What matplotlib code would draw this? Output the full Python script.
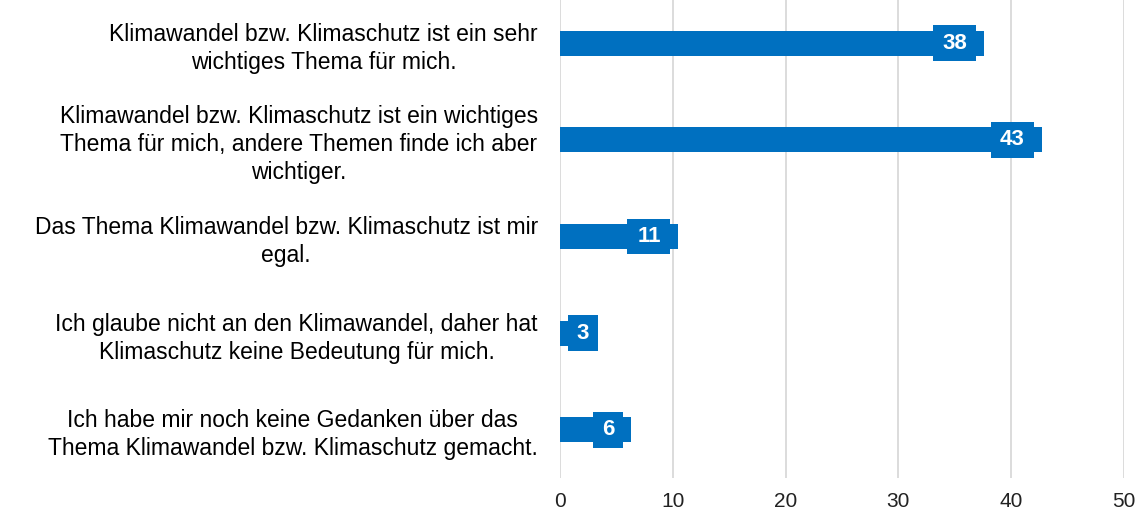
import matplotlib.pyplot as plt

plt.rcParams['font.family'] = ['Liberation Sans', 'DejaVu Sans']

categories = [
    'Klimawandel bzw. Klimaschutz ist ein sehr\nwichtiges Thema für mich.',
    'Klimawandel bzw. Klimaschutz ist ein wichtiges\nThema für mich, andere Themen finde ich aber\nwichtiger.',
    'Das Thema Klimawandel bzw. Klimaschutz ist mir\negal.',
    'Ich glaube nicht an den Klimawandel, daher hat\nKlimaschutz keine Bedeutung für mich.',
    'Ich habe mir noch keine Gedanken über das\nThema Klimawandel bzw. Klimaschutz gemacht.',
]
values = [37.6, 42.7, 10.5, 2.9, 6.3]
value_labels = ['38', '43', '11', '3', '6']
xticks = [0, 10, 20, 30, 40, 50]

blue = '#0070C0'

fig = plt.figure(figsize=(11.39, 5.11), dpi=100)
ax = fig.add_axes([560 / 1139, 33 / 511, 564 / 1139, 483 / 511])

y = list(range(len(categories)))
ax.barh(y, values, height=0.26, color=blue, zorder=3)

# label boxes: sizes measured in pixels, converted to data units
px = 50 / 564
for yi, v, lab in zip(y, values, value_labels):
    w = (43 if len(lab) == 2 else 30) * px
    right = v - 8 * px
    left = max(right - w, 7.5 * px)
    ax.barh(yi, w, left=left, height=0.37, color=blue, zorder=4)
    ax.text(left + w / 2, yi, lab, ha='center', va='center', color='white',
            fontsize=16, fontweight='bold', zorder=5)

ax.set_xlim(0, 50)
ax.set_ylim(4.5, -0.5)
ax.set_xticks(xticks)
ax.set_xticklabels([str(t) for t in xticks], fontsize=15, color='#222222')
ax.set_yticks(y)
ax.set_yticklabels(categories, fontsize=16.5, linespacing=1.28)
for t in ax.get_yticklabels():
    t.set_multialignment('center')
ax.tick_params(axis='both', length=0)
ax.tick_params(axis='y', pad=16)
ax.tick_params(axis='x', pad=10)
ax.grid(axis='x', color='#d9d9d9', linewidth=1.3, zorder=0)
for s in ax.spines.values():
    s.set_visible(False)

plt.savefig('out.png', dpi=100)
